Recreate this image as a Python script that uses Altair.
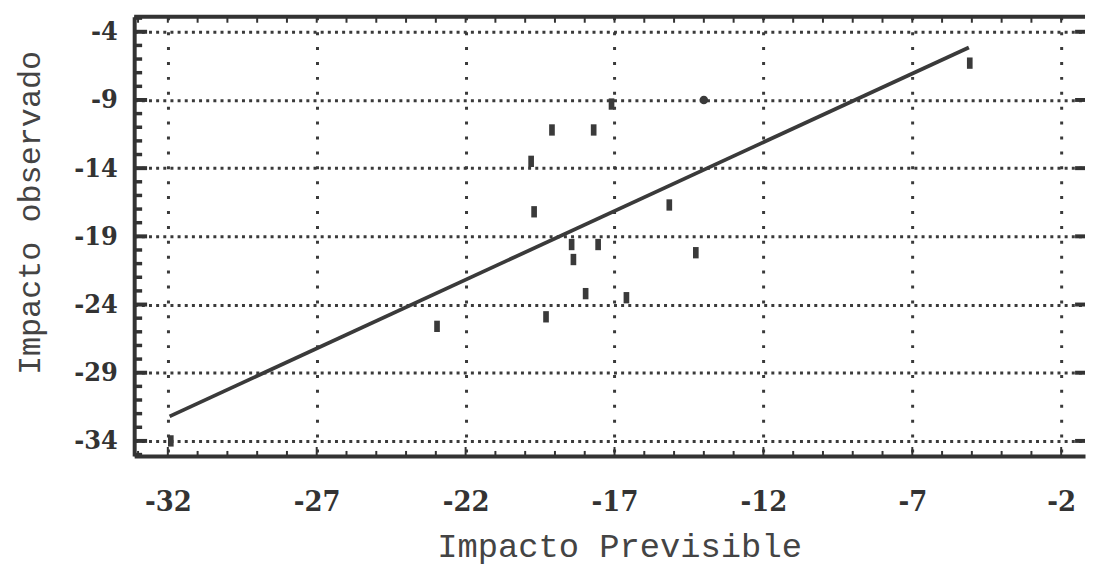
import altair as alt
import pandas as pd

# --- data ---
pred_x = [-19.1, -17.7, -19.8, -19.7, -17.1, -5.07, -15.16, -14.27, -18.44,
          -17.55, -18.38, -17.97, -16.6, -19.3, -22.96, -31.9]
obs_y = [-11.2, -11.2, -13.5, -17.2, -9.3, -6.3, -16.7, -20.2, -19.6,
         -19.6, -20.7, -23.2, -23.5, -24.9, -25.6, -34.0]
circle_x = [-14.0]
circle_y = [-9.0]
fit_x = [-31.94, -5.1]
fit_y = [-32.2, -5.15]

x_ticks = [-32, -27, -22, -17, -12, -7, -2]
y_ticks = [-4, -9, -14, -19, -24, -29, -34]
x_minor = [v for v in range(-33, 0) if v not in x_ticks]
y_minor = [v for v in range(-35, -2) if v not in y_ticks]

x_title = "Impacto Previsible"
y_title = "Impacto observado"

W, H = 957, 442
INK = "#333333"

xs = alt.Scale(domain=[-33.13, -1.2], nice=False, zero=False)
ys = alt.Scale(domain=[-35.1, -2.9], nice=False, zero=False)

rect_path = "M-0.5,-1 L0.5,-1 L0.5,1 L-0.5,1 Z"

points = alt.Chart(pd.DataFrame({"x": pred_x, "y": obs_y})).mark_point(
    shape=rect_path, filled=True, size=130, color="#3a3a3a", opacity=1)

circ = alt.Chart(pd.DataFrame({"x": circle_x, "y": circle_y})).mark_circle(
    size=75, color="#3a3a3a", opacity=1)

fit = alt.Chart(pd.DataFrame({"x": fit_x, "y": fit_y})).mark_line(
    color="#3a3a3a", strokeWidth=3.8)

ymaj = pd.DataFrame({"y": y_ticks})
ymin = pd.DataFrame({"y": y_minor})
xmaj = pd.DataFrame({"x": x_ticks})
xmin = pd.DataFrame({"x": x_minor})
xall = pd.DataFrame({"x": x_ticks + x_minor})

left_major = alt.Chart(ymaj).mark_rule(color=INK, strokeWidth=4).encode(
    x=alt.value(0), x2=alt.value(13))
left_minor = alt.Chart(ymin).mark_rule(color=INK, strokeWidth=3.5).encode(
    x=alt.value(0), x2=alt.value(8))
right_major = alt.Chart(ymaj).mark_rule(color=INK, strokeWidth=4).encode(
    x=alt.value(W - 10), x2=alt.value(W))
bottom_major = alt.Chart(xmaj).mark_rule(color=INK, strokeWidth=2).encode(
    y=alt.value(H), y2=alt.value(H - 9))
bottom_minor = alt.Chart(xmin).mark_rule(color=INK, strokeWidth=2).encode(
    y=alt.value(H), y2=alt.value(H - 5))
top_ticks = alt.Chart(xall).mark_rule(color=INK, strokeWidth=2).encode(
    y=alt.value(0), y2=alt.value(6))
top_frame = alt.Chart(pd.DataFrame({"x": [-20]})).mark_rule(
    color=INK, strokeWidth=4).encode(x=alt.value(0), x2=alt.value(W), y=alt.value(0))

minus_expr = "'-' + abs(datum.value)"

x_axis = alt.Axis(
    values=x_ticks, title=x_title, grid=True, gridDash=[3, 12],
    gridWidth=3, gridColor="#3a3a3a", domainWidth=4, domainColor=INK,
    ticks=False, labelPadding=32, labelFont="DejaVu Serif Condensed",
    labelFontWeight="bold", labelFontSize=29, labelColor=INK,
    labelExpr=minus_expr,
    titleFont="Liberation Mono", titleFontWeight="normal", titleFontSize=34,
    titleColor="#444444", titleX=488, titleY=91, titleBaseline="middle",
    titleAlign="center", labelFlush=False)
y_axis = alt.Axis(
    values=y_ticks, title=y_title, grid=True, gridDash=[3, 4.2],
    gridWidth=3, gridColor="#3a3a3a", domainWidth=4, domainColor=INK,
    ticks=False, labelPadding=17, labelFont="DejaVu Serif Condensed",
    labelFontWeight="bold", labelFontSize=27, labelColor=INK,
    labelExpr=minus_expr,
    titleFont="Liberation Mono", titleFontWeight="normal", titleFontSize=32,
    titleColor="#444444", titleX=-105, titleY=197, titleBaseline="middle",
    titleAlign="center", titleAngle=270, labelFlush=False)

chart = alt.layer(
    fit, points, circ, left_major, left_minor, right_major,
    bottom_major, bottom_minor, top_ticks, top_frame
).encode(
    x=alt.X("x:Q", scale=xs, axis=x_axis),
    y=alt.Y("y:Q", scale=ys, axis=y_axis),
).properties(
    width=W, height=H,
    padding={"left": 127, "top": 7, "right": 2, "bottom": 114},
    autosize=alt.AutoSizeParams(type="none"),
    background="white",
).configure_view(stroke=None)

chart.save("out.html", embed_options={"renderer": "svg", "actions": False})
